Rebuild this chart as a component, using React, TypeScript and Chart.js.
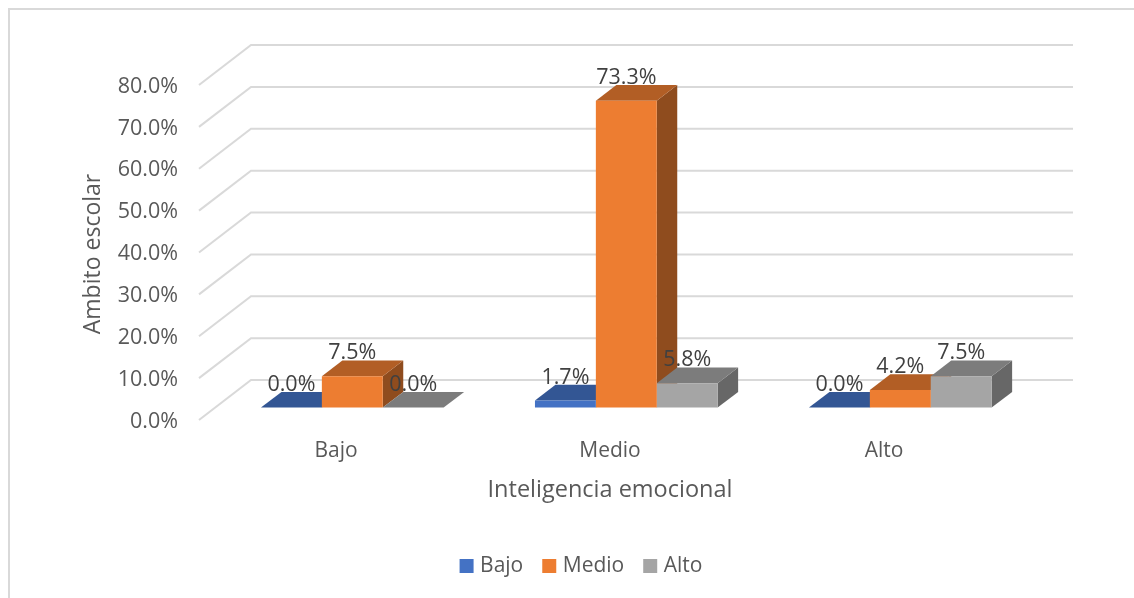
import React, { useEffect, useRef } from "react";
import { Chart, registerables } from "chart.js";

Chart.register(...registerables);

const categories = ["Bajo", "Medio", "Alto"];
const seriesNames = ["Bajo", "Medio", "Alto"];
const bajoValues = [0.0, 1.7, 0.0];
const medioValues = [7.5, 73.3, 4.2];
const altoValues = [0.0, 5.8, 7.5];
const frontColors = ["#4472C4", "#ED7D31", "#A5A5A5"];
const topColors = ["#335694", "#B25E25", "#7C7C7C"];
const sideColors = ["#294579", "#8F4C1E", "#676767"];

const FONT = "'Open Sans', 'Noto Sans', sans-serif";
const TEXT = "#595959";
const DATA_TEXT = "#404040";
const GRID = "#D9D9D9";

const WALL_DX = 52;
const WALL_DY = -40;
const WALL_Y = -1.5;
const SHIFT_X = 16.3;
const SHIFT_Y = -13.9;
const BAR_DX = 20.5;
const BAR_DY = -15.7;

const poly = (ctx: CanvasRenderingContext2D, pts: number[][], fill: string) => {
  ctx.beginPath();
  pts.forEach(([x, y], i) => (i ? ctx.lineTo(x, y) : ctx.moveTo(x, y)));
  ctx.closePath();
  ctx.fillStyle = fill;
  ctx.fill();
};

const threeD = {
  id: "threeD",
  beforeDraw(chart: any) {
    const { ctx, chartArea, scales } = chart;
    ctx.save();
    ctx.fillStyle = "#FFFFFF";
    ctx.fillRect(0, 0, chart.width, chart.height);
    ctx.strokeStyle = GRID;
    ctx.lineWidth = 2;
    ctx.beginPath();
    ctx.moveTo(9, chart.height);
    ctx.lineTo(9, 9);
    ctx.lineTo(chart.width, 9);
    ctx.stroke();
    ctx.lineWidth = 2;
    scales.y.ticks.forEach((t: any) => {
      const y = scales.y.getPixelForValue(t.value) + WALL_Y;
      ctx.beginPath();
      ctx.moveTo(chartArea.left, y);
      ctx.lineTo(chartArea.left + WALL_DX, y + WALL_DY);
      ctx.lineTo(chartArea.right + WALL_DX, y + WALL_DY);
      ctx.stroke();
    });
    ctx.restore();
  },
  beforeDatasetsDraw(chart: any) {
    const { ctx } = chart;
    ctx.save();
    ctx.translate(SHIFT_X, SHIFT_Y);
    categories.forEach((_, c) => {
      seriesNames.forEach((__, d) => {
        const el = chart.getDatasetMeta(d).data[c];
        const l = el.x - el.width / 2;
        const r = el.x + el.width / 2;
        const t = el.y;
        const b = el.base;
        poly(ctx, [[r, b], [r, t], [r + BAR_DX, t + BAR_DY], [r + BAR_DX, b + BAR_DY]], sideColors[d]);
        poly(ctx, [[l, t], [r, t], [r + BAR_DX, t + BAR_DY], [l + BAR_DX, t + BAR_DY]], topColors[d]);
      });
    });
  },
  afterDatasetsDraw(chart: any) {
    const { ctx } = chart;
    ctx.restore();
    ctx.save();
    ctx.translate(SHIFT_X, SHIFT_Y);
    ctx.font = `21.5px ${FONT}`;
    ctx.fillStyle = DATA_TEXT;
    ctx.textAlign = "center";
    ctx.textBaseline = "middle";
    chart.data.datasets.forEach((ds: any, d: number) => {
      chart.getDatasetMeta(d).data.forEach((el: any, i: number) => {
        ctx.fillText(`${ds.data[i].toFixed(1)}%`, el.x, el.y - 23);
      });
    });
    ctx.restore();
  },
};

export default function App() {
  const ref = useRef<HTMLCanvasElement>(null);
  useEffect(() => {
    const seriesValues = [bajoValues, medioValues, altoValues];
    const chart = new Chart(ref.current!, {
      type: "bar",
      data: {
        labels: categories,
        datasets: seriesNames.map((name, i) => ({
          label: name,
          data: seriesValues[i],
          backgroundColor: frontColors[i],
          borderWidth: 0,
          clip: false as any,
          categoryPercentage: 0.6667,
          barPercentage: 1,
        })),
      },
      options: {
        animation: false,
        responsive: false,
        layout: { padding: { left: 32, right: 0, top: 86.5, bottom: 11.5 } },
        scales: {
          x: {
            grid: { display: false, drawTicks: false },
            border: { display: false },
            ticks: { font: { family: FONT, size: 21 }, color: TEXT, padding: 17, maxRotation: 0 },
            title: {
              display: true,
              text: "Inteligencia emocional",
              font: { family: FONT, size: 23.5 },
              color: TEXT,
              padding: { top: 0, bottom: 28 },
            },
            afterFit: (s: any) => {
              s.height = 111;
            },
          },
          y: {
            min: 0,
            max: 80,
            grid: { display: false, drawTicks: false },
            border: { display: false },
            ticks: {
              stepSize: 10,
              font: { family: FONT, size: 21.5 },
              color: TEXT,
              padding: 21,
              callback: (v: any) => `${Number(v).toFixed(1)}%`,
            },
            title: {
              display: true,
              text: "Ambito escolar",
              font: { family: FONT, size: 23 },
              color: TEXT,
              padding: { top: 48, bottom: 0 },
            },
            afterFit: (s: any) => {
              s.width = 167;
            },
          },
          rightGap: {
            type: "linear",
            position: "right",
            display: true,
            grid: { display: false, drawTicks: false },
            border: { display: false },
            ticks: { display: false },
            afterFit: (s: any) => {
              s.width = 113;
            },
          },
        },
        plugins: {
          legend: {
            position: "bottom",
            labels: {
              font: { family: FONT, size: 21 },
              color: TEXT,
              padding: 23,
              boxWidth: 6,
              boxHeight: 6,
              generateLabels: (c: any) =>
                Chart.defaults.plugins.legend.labels.generateLabels(c).map((it: any, i: number) => ({
                  ...it,
                  strokeStyle: frontColors[i],
                  lineWidth: 8,
                })),
            },
          },
          tooltip: { enabled: false },
        },
      } as any,
      plugins: [threeD],
    });
    return () => chart.destroy();
  }, []);
  return (
    <div style={{ position: "absolute", left: 0, top: 0 }}>
      <canvas ref={ref} width={1134} height={598} style={{ display: "block" }} />
    </div>
  );
}
